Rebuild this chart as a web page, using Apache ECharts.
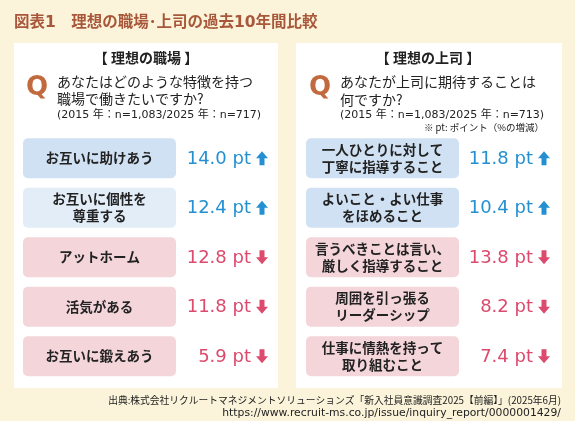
<!DOCTYPE html>
<html>
<head>
    <meta charset="utf-8">
    <title>理想の職場・上司</title>
    <script src="https://cdn.jsdelivr.net/npm/echarts@6/dist/echarts.min.js"></script>
    <style>
        html, body { margin: 0; padding: 0; background: #fbf4da; }
    </style>
</head>
<body>
    <div id="main" style="width: 575px;height:421px;"></div>
    <script type="text/javascript">
        // 理想の職場（2015→2025 の増減 pt、マイナスは減少）
        var workplaceItems = ['お互いに助けあう', 'お互いに個性を\n尊重する', 'アットホーム', '活気がある', 'お互いに鍛えあう'];
        var workplaceValues = [14.0, 12.4, -12.8, -11.8, -5.9];

        // 理想の上司
        var bossItems = ['一人ひとりに対して\n丁寧に指導すること', 'よいこと・よい仕事\nをほめること', '言うべきことは言い、\n厳しく指導すること', '周囲を引っ張る\nリーダーシップ', '仕事に情熱を持って\n取り組むこと'];
        var bossValues = [11.8, 10.4, -13.8, -8.2, -7.4];

        var JP = '"Noto Sans CJK JP", sans-serif';
        var WIDE = '"DejaVu Sans", "Noto Sans CJK JP", sans-serif';
        var BLUE = '#2590d1', RED = '#dc4a6d';
        // 箱の色（左は 2 番目だけ薄い）
        var boxShadesLeft = ['#d0e1f3', '#e2edf8'];
        var boxShadesRight = ['#d0e1f3', '#d0e1f3'];

        function makeRender(labels, shades) {
            return function (params, api) {
                var idx = api.value(0);
                var v = api.value(1);
                var cs = params.coordSys;
                var c = api.coord([0, idx]);
                var h = 40, bw = 153;
                var up = v >= 0;
                var col = up ? BLUE : RED;
                var fill = up ? shades[idx] : '#f4d5da';
                var right = cs.x + cs.width;
                var cy = c[1];
                // 矢印
                var ax = right - 6, aw = 6, hh = 7, sw = 2.5, top = cy - 7, bot = cy + 7;
                var pts = up
                    ? [[ax, top], [ax + aw, top + hh], [ax + sw, top + hh], [ax + sw, bot], [ax - sw, bot], [ax - sw, top + hh], [ax - aw, top + hh]]
                    : [[ax, bot], [ax + aw, bot - hh], [ax + sw, bot - hh], [ax + sw, top], [ax - sw, top], [ax - sw, bot - hh], [ax - aw, bot - hh]];
                return {
                    type: 'group',
                    children: [{
                        type: 'rect',
                        shape: { x: c[0], y: cy - h / 2, width: bw, height: h, r: 5 },
                        style: { fill: fill }
                    }, {
                        type: 'text',
                        style: {
                            x: c[0] + bw / 2, y: cy, text: labels[idx],
                            align: 'center', verticalAlign: 'middle',
                            font: 'bold 13.5px ' + JP, lineHeight: 17, fill: '#222'
                        }
                    }, {
                        type: 'text',
                        style: {
                            x: right - 17, y: cy + 1, text: Math.abs(v).toFixed(1) + ' pt',
                            align: 'right', verticalAlign: 'middle',
                            font: '18px "DejaVu Sans", sans-serif', fill: col
                        }
                    }, {
                        type: 'polygon',
                        shape: { points: pts },
                        style: { fill: col }
                    }]
                };
            };
        }

        function toData(values) {
            return values.map(function (v, i) { return [i, v]; });
        }

        var myChart = echarts.init(document.getElementById('main'));

        var option = {
            backgroundColor: '#fbf4da',
            animation: false,
            grid: [
                { left: 23, top: 133.5, width: 245, height: 247.5 },
                { left: 306, top: 133.5, width: 244, height: 247.5 }
            ],
            xAxis: [
                { gridIndex: 0, type: 'value', min: 0, max: 1, show: false },
                { gridIndex: 1, type: 'value', min: 0, max: 1, show: false }
            ],
            yAxis: [
                { gridIndex: 0, type: 'category', data: workplaceItems, inverse: true, show: false },
                { gridIndex: 1, type: 'category', data: bossItems, inverse: true, show: false }
            ],
            graphic: [
                { type: 'rect', shape: { x: 14, y: 43, width: 264, height: 345 }, style: { fill: '#fff' }, z: -10 },
                { type: 'rect', shape: { x: 296, y: 43, width: 266, height: 345 }, style: { fill: '#fff' }, z: -10 },
                { type: 'text', x: 14, y: 23, style: { text: '図表1　理想の職場･上司の過去10年間比較', font: 'bold 15.5px ' + WIDE, fill: '#a8573a', verticalAlign: 'middle' } },

                { type: 'text', x: 146, y: 58, style: { text: '【 理想の職場 】', font: 'bold 14px ' + JP, fill: '#222', align: 'center', verticalAlign: 'middle' } },
                { type: 'text', x: 37, y: 88, style: { text: 'Q', font: 'bold 26px ' + WIDE, fill: '#c06a3e', align: 'center', verticalAlign: 'middle' } },
                { type: 'text', x: 57, y: 82, style: { text: 'あなたはどのような特徴を持つ', font: '14px ' + JP, fill: '#222', verticalAlign: 'middle' } },
                { type: 'text', x: 57, y: 99, style: { text: '職場で働きたいですか?', font: '14px ' + JP, fill: '#222', verticalAlign: 'middle' } },
                { type: 'text', x: 57, y: 115, style: { text: '(2015 年：n=1,083/2025 年：n=717)', font: '11px ' + WIDE, fill: '#222', verticalAlign: 'middle' } },

                { type: 'text', x: 428, y: 58, style: { text: '【 理想の上司 】', font: 'bold 14px ' + JP, fill: '#222', align: 'center', verticalAlign: 'middle' } },
                { type: 'text', x: 320, y: 88, style: { text: 'Q', font: 'bold 26px ' + WIDE, fill: '#c06a3e', align: 'center', verticalAlign: 'middle' } },
                { type: 'text', x: 340, y: 82, style: { text: 'あなたが上司に期待することは', font: '14px ' + JP, fill: '#222', verticalAlign: 'middle' } },
                { type: 'text', x: 340, y: 100, style: { text: '何ですか?', font: '14px ' + JP, fill: '#222', verticalAlign: 'middle' } },
                { type: 'text', x: 340, y: 115, style: { text: '(2015 年：n=1,083/2025 年：n=713)', font: '11px ' + WIDE, fill: '#222', verticalAlign: 'middle' } },
                { type: 'text', x: 544, y: 127, style: { text: '※ pt: ポイント（%の増減）', font: '9.5px ' + JP, fill: '#222', align: 'right', verticalAlign: 'middle' } },

                { type: 'text', x: 561, y: 400, style: { text: '出典:株式会社リクルートマネジメントソリューションズ「新入社員意識調査2025【前編】」(2025年6月)', font: '9.75px ' + JP, fill: '#222', align: 'right', verticalAlign: 'middle' } },
                { type: 'text', x: 561, y: 413, style: { text: 'https://www.recruit-ms.co.jp/issue/inquiry_report/0000001429/', font: '10.8px "DejaVu Sans", sans-serif', fill: '#222', align: 'right', verticalAlign: 'middle' } }
            ],
            series: [{
                type: 'custom',
                xAxisIndex: 0, yAxisIndex: 0,
                renderItem: makeRender(workplaceItems, boxShadesLeft),
                data: toData(workplaceValues)
            }, {
                type: 'custom',
                xAxisIndex: 1, yAxisIndex: 1,
                renderItem: makeRender(bossItems, boxShadesRight),
                data: toData(bossValues)
            }]
        };
        myChart.setOption(option);
    </script>
</body>
</html>
